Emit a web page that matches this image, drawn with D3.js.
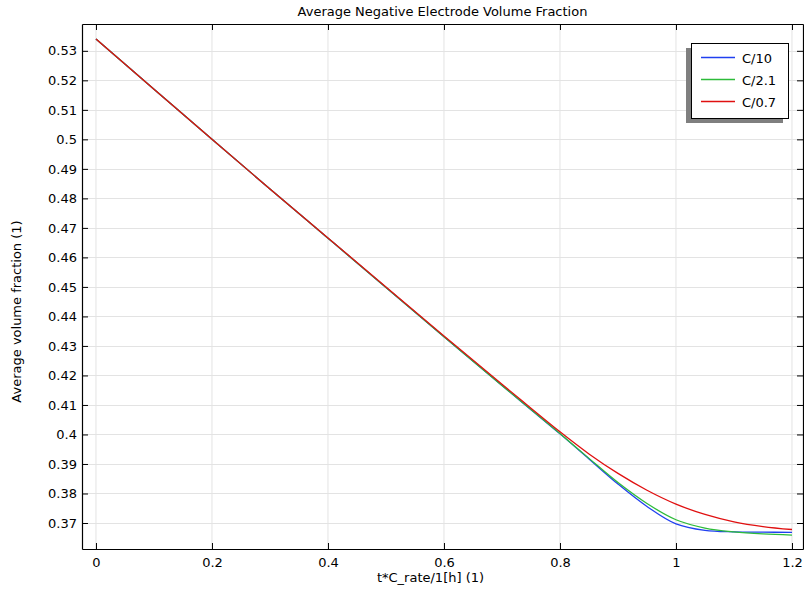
<!DOCTYPE html>
<html>
<head>
<meta charset="utf-8">
<script src="https://cdn.jsdelivr.net/npm/d3@7"></script>
<style>
  body { margin: 0; background: #fff; }
  svg { font-family: "DejaVu Sans", sans-serif; }
</style>
</head>
<body>
<svg width="804" height="591"></svg>
<script>
// données
const T = [0, 0.1, 0.2, 0.3, 0.4, 0.5, 0.6, 0.7, 0.75, 0.8, 0.85, 0.9, 0.95, 1.0, 1.05, 1.1, 1.15, 1.2];
const C10 = [0.534, 0.517, 0.5, 0.4832, 0.4665, 0.4498, 0.4331, 0.4166, 0.4084, 0.4002, 0.3917, 0.3832, 0.3756, 0.3697, 0.3675, 0.3670, 0.3669, 0.3668];
const C21 = [0.534, 0.517, 0.5, 0.4832, 0.4665, 0.4498, 0.4331, 0.4166, 0.4085, 0.4003, 0.3919, 0.3837, 0.3766, 0.3711, 0.3683, 0.3670, 0.3663, 0.3659];
const C07 = [0.534, 0.517, 0.5, 0.4832, 0.4666, 0.4500, 0.4334, 0.4170, 0.4089, 0.4009, 0.3934, 0.3868, 0.3811, 0.3764, 0.3729, 0.3704, 0.3688, 0.3678];
const labels = ['C/10', 'C/2.1', 'C/0.7'];
const colors = ['#2040f0', '#2dbb3a', '#e01010'];
const xTicks = [0, 0.2, 0.4, 0.6, 0.8, 1, 1.2];
const yTicks = d3.range(37, 54).map(d => d / 100);

const svg = d3.select('svg');
const margin = { top: 24, right: 1, bottom: 42, left: 82 };
const W = 804 - margin.left - margin.right;
const H = 591 - margin.top - margin.bottom;

const x = d3.scaleLinear().domain([-0.0241, 1.2190]).range([0, W]);
const y = d3.scaleLinear().domain([0.36119, 0.53909]).range([H, 0]);

const g = svg.append('g').attr('transform', `translate(${margin.left},${margin.top})`);

// grille
g.selectAll('.vgrid').data(xTicks).join('line')
  .attr('x1', d => x(d)).attr('x2', d => x(d))
  .attr('y1', 0).attr('y2', H)
  .attr('stroke', '#e3e3e3');
g.selectAll('.hgrid').data(yTicks).join('line')
  .attr('x1', 0).attr('x2', W)
  .attr('y1', d => Math.round(y(d)) + 0.5).attr('y2', d => Math.round(y(d)) + 0.5)
  .attr('stroke', '#e3e3e3');

// courbes
const series = [C10, C21, C07];
const line = d3.line()
  .x(d => x(d[0]))
  .y(d => y(d[1]))
  .curve(d3.curveCatmullRom.alpha(0.5));
series.forEach((s, i) => {
  g.append('path')
    .attr('d', line(T.map((t, k) => [t, s[k]])))
    .attr('fill', 'none')
    .attr('stroke', colors[i])
    .attr('stroke-width', 1.3);
});

// axes
const tickFmt = d => d3.format('')(+d.toFixed(2));
const axL = g.append('g').call(d3.axisLeft(y).tickValues(yTicks).tickSizeInner(-6).tickSizeOuter(0).tickPadding(5).tickFormat(tickFmt));
const axB = g.append('g').attr('transform', `translate(0,${H})`)
  .call(d3.axisBottom(x).tickValues(xTicks).tickSizeInner(-6).tickSizeOuter(0).tickPadding(9).tickFormat(tickFmt));
const axT = g.append('g').call(d3.axisTop(x).tickValues(xTicks).tickSizeInner(-6).tickSizeOuter(0).tickFormat(''));
const axR = g.append('g').attr('transform', `translate(${W},0)`)
  .call(d3.axisRight(y).tickValues(yTicks).tickSizeInner(-6).tickSizeOuter(0).tickFormat(''));
[axL, axB, axT, axR].forEach(a => {
  a.selectAll('text').attr('font-size', 13).attr('font-family', '"DejaVu Sans", sans-serif').attr('fill', '#000');
  a.selectAll('.domain').attr('stroke', '#000').attr('stroke-width', 1.2);
});

// titres
svg.append('text').attr('x', margin.left + W / 2).attr('y', 16)
  .attr('text-anchor', 'middle').attr('font-size', 13).text('Average Negative Electrode Volume Fraction');
svg.append('text').attr('x', margin.left + W / 2 - 12).attr('y', 582)
  .attr('text-anchor', 'middle').attr('font-size', 13).text('t*C_rate/1[h] (1)');
svg.append('text')
  .attr('transform', `translate(21,${margin.top + H / 2 + 25}) rotate(-90)`)
  .attr('text-anchor', 'middle').attr('font-size', 13).text('Average volume fraction (1)');

// légende
const lg = svg.append('g').attr('transform', 'translate(691,43)');
lg.append('rect').attr('x', -5).attr('y', 5).attr('width', 97).attr('height', 75).attr('fill', '#7f7f7f');
lg.append('rect').attr('x', 0.5).attr('y', 0.5).attr('width', 97).attr('height', 75)
  .attr('fill', '#fff').attr('stroke', '#000');
labels.forEach((l, i) => {
  const yy = 14.5 + i * 22;
  lg.append('line').attr('x1', 10).attr('x2', 44).attr('y1', yy).attr('y2', yy)
    .attr('stroke', colors[i]).attr('stroke-width', 1.3);
  lg.append('text').attr('x', 51).attr('y', yy + 5).attr('font-size', 13).text(l);
});
</script>
</body>
</html>
